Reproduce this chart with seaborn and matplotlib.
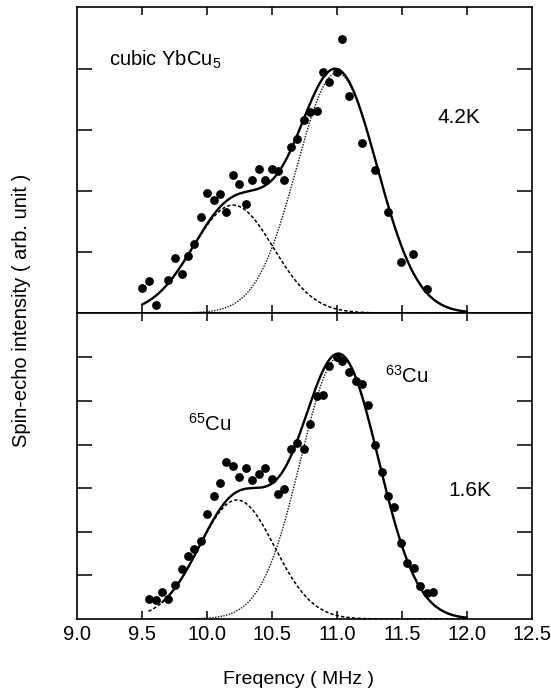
import numpy as np
import pandas as pd
import matplotlib
matplotlib.use("Agg")
import matplotlib.pyplot as plt
import seaborn as sns

# measured spin-echo points, 4.2 K
freq_42 = [9.50, 9.556, 9.605, 9.703, 9.754, 9.805, 9.851, 9.902, 9.954, 10.00,
           10.05, 10.10, 10.146, 10.198, 10.248, 10.297, 10.349, 10.397, 10.446, 10.497,
           10.544, 10.595, 10.646, 10.695, 10.746, 10.792, 10.844, 10.895, 10.941, 10.997,
           11.041, 11.095, 11.192, 11.292, 11.395, 11.49, 11.587, 11.69]
amp_42 = [0.41, 0.52, 0.13, 0.54, 0.90, 0.64, 0.93, 1.13, 1.58, 1.97,
          1.85, 1.95, 1.66, 2.27, 2.11, 1.78, 2.18, 2.36, 2.19, 2.36,
          2.33, 2.18, 2.73, 2.86, 3.16, 3.30, 3.32, 3.96, 3.79, 3.96,
          4.49, 3.56, 2.79, 2.34, 1.65, 0.84, 0.97, 0.40]

# measured spin-echo points, 1.6 K
freq_16 = [9.556, 9.605, 9.654, 9.703, 9.754, 9.805, 9.851, 9.902, 9.954, 10.00,
           10.05, 10.10, 10.146, 10.198, 10.248, 10.297, 10.349, 10.397, 10.446, 10.497,
           10.544, 10.595, 10.646, 10.695, 10.746, 10.792, 10.844, 10.895, 10.941, 10.997,
           11.041, 11.095, 11.144, 11.192, 11.241, 11.292, 11.344, 11.395, 11.44, 11.49,
           11.54, 11.592, 11.638, 11.69, 11.74]
amp_16 = [0.47, 0.43, 0.63, 0.47, 0.78, 1.14, 1.44, 1.60, 1.80, 2.40,
          2.82, 3.13, 3.60, 3.51, 3.26, 3.47, 3.20, 3.32, 3.47, 3.22,
          2.86, 2.99, 3.89, 4.03, 3.89, 4.47, 5.11, 5.15, 5.80, 6.02,
          5.92, 5.67, 5.47, 5.40, 4.91, 3.99, 3.37, 2.82, 2.57, 1.75,
          1.29, 1.16, 0.76, 0.59, 0.63]

# two-gaussian fit: (65Cu, 63Cu)
fit_center_42 = [10.20, 11.00]
fit_width_42 = [0.31, 0.31]
fit_height_42 = [1.77, 3.94]
fit_center_16 = [10.23, 11.02]
fit_width_16 = [0.29, 0.30]
fit_height_16 = [2.73, 6.02]

x_ticks = [9.0, 9.5, 10.0, 10.5, 11.0, 11.5, 12.0, 12.5]
x_ticklabels = ["9.0", "9.5", "10.0", "10.5", "11.0", "11.5", "12.0", "12.5"]


def gauss(x, c, w, h):
    return h * np.exp(-(x - c) ** 2 / (2 * w ** 2))


def fit_frame(x, centers, widths, heights):
    g65 = gauss(x, centers[0], widths[0], heights[0])
    g63 = gauss(x, centers[1], widths[1], heights[1])
    return pd.DataFrame({"f": x, "cu65": g65, "cu63": g63, "total": g65 + g63})


sns.set_style("ticks")
plt.rcParams["font.family"] = ["Liberation Sans", "DejaVu Sans"]
plt.rcParams["mathtext.fontset"] = "custom"
plt.rcParams["mathtext.rm"] = "Liberation Sans"
plt.rcParams["mathtext.it"] = "Liberation Sans:italic"
plt.rcParams["text.color"] = "black"
plt.rcParams["xtick.color"] = "black"
plt.rcParams["ytick.color"] = "black"

fig = plt.figure(figsize=(5.51, 6.94), dpi=100)
ax1 = fig.add_axes([77 / 551, 1 - 313 / 694, 455 / 551, 306 / 694])
ax2 = fig.add_axes([77 / 551, 1 - 619 / 694, 455 / 551, 306 / 694], sharex=ax1)

panels = [
    (ax1, freq_42, amp_42, fit_center_42, fit_width_42, fit_height_42, 9.50, 9.50, 5.02, [1, 2, 3, 4]),
    (ax2, freq_16, amp_16, fit_center_16, fit_width_16, fit_height_16, 9.55, 9.65, 7.02, [1, 2, 3, 4, 5, 6]),
]

for ax, fx, fy, cen, wid, hgt, x0, x0_tot, ytop, yt in panels:
    fit = fit_frame(np.linspace(x0, 12.0, 300), cen, wid, hgt)
    sns.lineplot(data=fit, x="f", y="cu63", ax=ax, color="#111111", lw=1.0,
                 linestyle=(0, (1, 1)), sort=False)
    sns.lineplot(data=fit, x="f", y="cu65", ax=ax, color="black", lw=1.1,
                 linestyle=(0, (2.2, 1.4)), sort=False)
    tot = fit[fit["f"] >= x0_tot]
    sns.lineplot(data=tot, x="f", y="total", ax=ax, color="black", lw=1.7, sort=False)
    pts = pd.DataFrame({"f": fx, "a": fy})
    sns.scatterplot(data=pts, x="f", y="a", ax=ax, color="black", s=40,
                    edgecolor="black", linewidth=0, zorder=5)
    ax.set_xlim(9.0, 12.5)
    ax.set_ylim(0, ytop)
    ax.set_yticks(yt)
    ax.set_xticks(x_ticks)
    ax.set_yticklabels([])
    ax.set_xlabel("")
    ax.set_ylabel("")
    ax.tick_params(axis="x", direction="in", length=6, width=1.1, top=True, bottom=True)
    ax.tick_params(axis="y", direction="in", length=11, width=1.1, left=True, right=True)
    for sp in ax.spines.values():
        sp.set_visible(True)
        sp.set_linewidth(1.2)
        sp.set_color("black")
    # keep the edge ticks invisible at the corners
    for t in ax.xaxis.get_major_ticks()[::7]:
        t.tick1line.set_visible(False)
        t.tick2line.set_visible(False)

ax1.tick_params(axis="x", labelbottom=False)
ax2.set_xticklabels(x_ticklabels)
ax2.tick_params(axis="x", labelsize=14.5, pad=4, labelcolor="black")

ax1.text(9.246, 4.06, "cubic YbCu$_5$", fontsize=14.5, ha="left", va="baseline")
ax1.text(11.77, 3.11, "4.2K", fontsize=15, ha="left", va="baseline")
ax2.text(11.854, 2.82, "1.6K", fontsize=15, ha="left", va="baseline")
ax2.text(11.37, 5.42, "$^{63}$Cu", fontsize=14.7, ha="left", va="baseline")
ax2.text(9.854, 4.31, "$^{65}$Cu", fontsize=14.7, ha="left", va="baseline")

fig.text(22 / 551, 1 - 310 / 694, "Spin-echo intensity ( arb. unit )", rotation=90,
         fontsize=14.5, ha="center", va="center")
fig.text(299 / 551, 1 - 679 / 694, "Freqency ( MHz )", fontsize=14,
         ha="center", va="center")

fig.savefig("out.png", dpi=100)
